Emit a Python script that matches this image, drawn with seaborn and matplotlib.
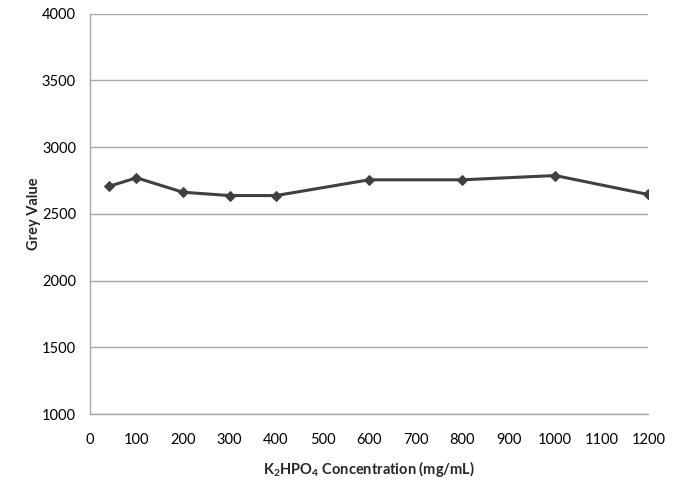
import matplotlib
matplotlib.use("Agg")
import matplotlib.pyplot as plt
import seaborn as sns
import pandas as pd

concentration = [40, 100, 200, 300, 400, 600, 800, 1000, 1200]
grey_value = [2705, 2770, 2662, 2637, 2637, 2755, 2755, 2787, 2645]
x_ticks = list(range(0, 1201, 100))
y_ticks = list(range(1000, 4001, 500))

sns.set_theme(style="white")
plt.rcParams['font.family'] = ['Lato', 'DejaVu Sans']
plt.rcParams['mathtext.fontset'] = 'custom'
plt.rcParams['mathtext.rm'] = 'Lato:bold'
plt.rcParams['mathtext.bf'] = 'Lato:bold'

df = pd.DataFrame({"x": concentration, "y": grey_value})

fig = plt.figure(figsize=(6.76, 4.8), dpi=100)
ax = fig.add_axes([0.133, 0.1375, 0.826, 0.834])
sns.lineplot(data=df, x="x", y="y", ax=ax, color="#404040", linewidth=2.2,
             marker="D", markersize=5.5, markeredgecolor="#404040")

ax.set_xlim(0, 1200)
ax.set_ylim(1000, 4000)
ax.set_xticks(x_ticks)
ax.set_yticks(y_ticks)
ax.yaxis.grid(True, color="#a6a6a6", linewidth=1)
ax.xaxis.grid(False)
for s in ["top", "right"]:
    ax.spines[s].set_visible(False)
for s in ["left", "bottom"]:
    ax.spines[s].set_color("#a6a6a6")
    ax.spines[s].set_linewidth(1)
ax.tick_params(axis="both", length=0, labelsize=10.5, colors="#000000")
ax.tick_params(axis="x", pad=14)
ax.tick_params(axis="y", pad=10)
ax.set_xlabel(r"K$_\mathbf{2}$HPO$_\mathbf{4}$ Concentration (mg/mL)", fontsize=10.5,
              fontweight="bold", labelpad=8)
ax.set_ylabel("Grey Value", fontsize=10.5, fontweight="bold", labelpad=1)

fig.savefig("out.png", dpi=100)
